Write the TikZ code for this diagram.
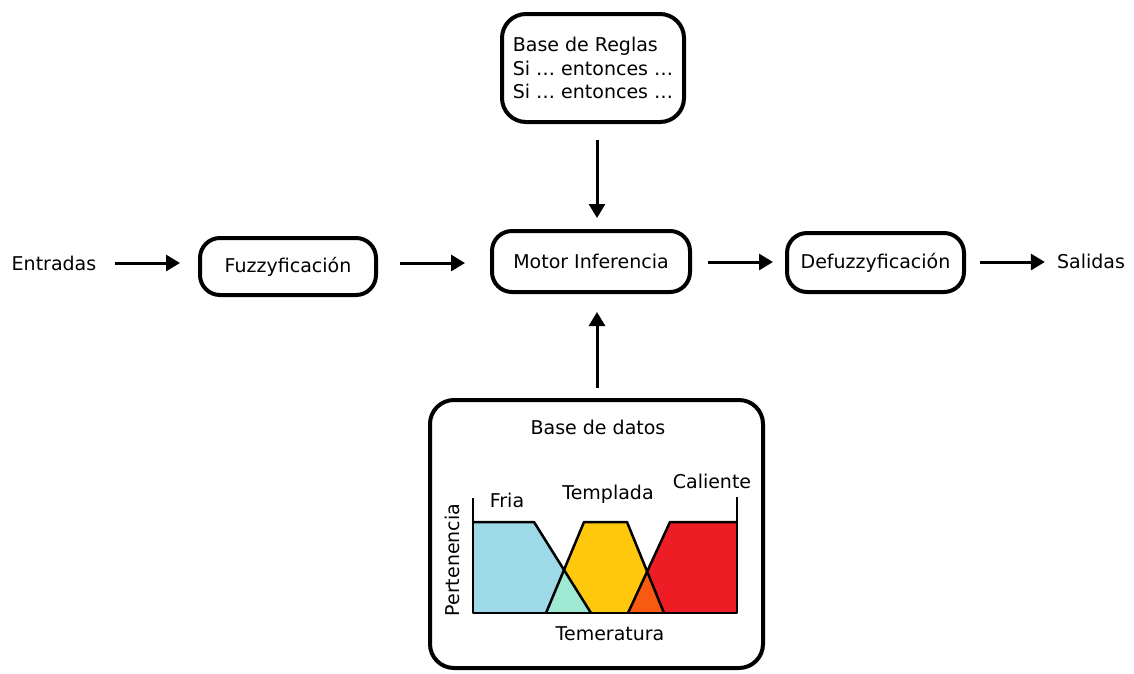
\documentclass[tikz,border=0pt]{standalone}
\usepackage{fontspec}
\setmainfont{DejaVu Sans}
\usetikzlibrary{arrows.meta}
\definecolor{cfria}{RGB}{158,217,232}
\definecolor{cmix}{RGB}{160,233,210}
\definecolor{ctemp}{RGB}{255,200,13}
\definecolor{corng}{RGB}{249,90,18}
\definecolor{ccal}{RGB}{238,28,37}
\tikzset{
  box/.style={draw, line width=4pt, rounded corners=20pt, inner sep=0pt,
    font=\fontsize{19}{23.5}\selectfont},
  lbl/.style={inner sep=0pt, font=\fontsize{19}{23}\selectfont},
  arr/.style={line width=3pt, -{Triangle[length=14pt,width=16pt]}},
  curve/.style={line width=2.5pt, line join=round},
}
\begin{document}
\begin{tikzpicture}[x=1pt,y=-1pt]
\useasboundingbox (0,0) rectangle (1134,673);
% main row
\node[lbl] (entr) at (54,263) {Entradas};
\node[box, minimum width=176pt, minimum height=57pt] (fuzz) at (288,266.5) {Fuzzyficación};
\node[box, minimum width=198pt, minimum height=61pt] (mot) at (591,261.5) {Motor Inferencia};
\node[box, minimum width=177pt, minimum height=59pt] (def) at (875.5,262.5) {Defuzzyficación};
\node[lbl] (sal) at (1091,261) {Salidas};
% rules
\node[box, rounded corners=24pt, minimum width=182pt, minimum height=108pt, align=left] (rules) at (593,68)
  {Base de Reglas\\Si … entonces …\\Si … entonces …};
% database
\node[box, rounded corners=24pt, minimum width=333pt, minimum height=268pt] (db) at (596.5,534) {};
\node[lbl] (dbt) at (598,427) {Base de datos};
% arrows
\draw[arr] ([xshift=19pt]entr.east) -- ([xshift=-18pt,yshift=3.5pt]fuzz.west);
\draw[arr] ([xshift=22pt,yshift=3.5pt]fuzz.east) -- ([xshift=-25pt,yshift=-1.5pt]mot.west);
\draw[arr] ([xshift=16pt,yshift=-0.5pt]mot.east) -- ([xshift=-12pt,yshift=0.5pt]def.west);
\draw[arr] ([xshift=14pt,yshift=0.5pt]def.east) -- ([xshift=-12pt,yshift=-1pt]sal.west);
\draw[arr] ([xshift=4pt,yshift=-16pt]rules.south) -- ([xshift=6pt,yshift=11pt]mot.north);
\draw[arr] ([xshift=0.5pt,yshift=10pt]db.north) -- ([xshift=6pt,yshift=-18pt]mot.south);
% membership fills
\fill[cfria] (473,613) -- (473,522) -- (534,522) -- (564.5,570) -- (546,613) -- cycle;
\fill[cmix] (546,613) -- (564.5,570) -- (591,613) -- cycle;
\fill[ctemp] (591,613) -- (564.5,570) -- (584,522) -- (627,522) -- (647,570) -- (628,613) -- cycle;
\fill[corng] (628,613) -- (647,570) -- (664,613) -- cycle;
\fill[ccal] (664,613) -- (647,570) -- (670,522) -- (737,522) -- (737,613) -- cycle;
% membership lines
\draw[curve] (473,498) -- (473,613) -- (737,613) -- (737,497);
\draw[curve] (473,522) -- (534,522) -- (591,613);
\draw[curve] (546,613) -- (584,522) -- (627,522) -- (664,613);
\draw[curve] (628,613) -- (670,522) -- (737,522);
% chart labels
\node[lbl] (lfria) at (507,500) {Fria};
\node[lbl] (ltemp) at (608,494) {Templada};
\node[lbl] (lcal) at (712,481) {Caliente};
\node[lbl] (ltemr) at (610,634) {Temeratura};
\node[lbl, rotate=90] (lper) at (452,560) {Pertenencia};
\end{tikzpicture}
\end{document}
